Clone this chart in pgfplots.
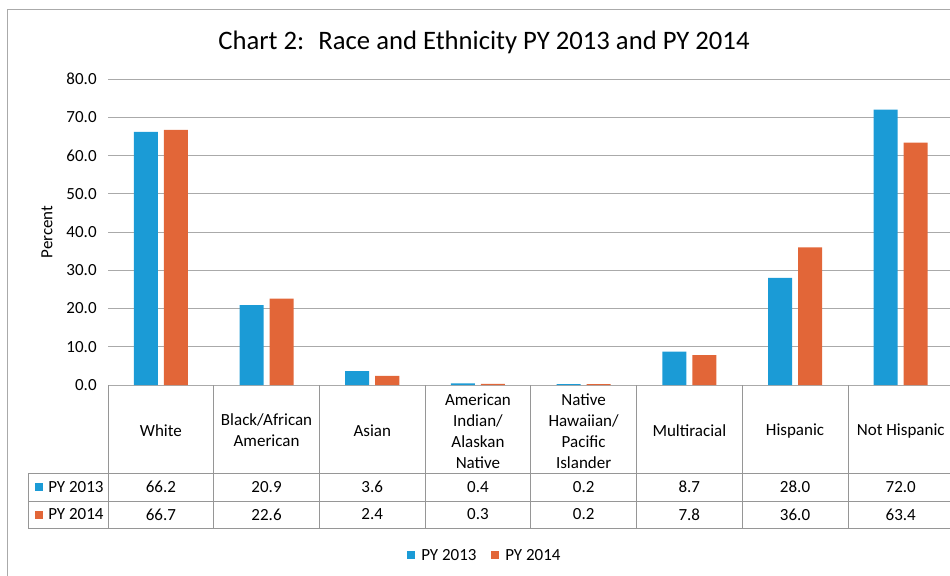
\documentclass[border=0pt]{standalone}
\usepackage{fontspec}
\setmainfont{Carlito}
\usepackage{pgfplots}
\pgfplotsset{compat=1.18}
\definecolor{cblue}{RGB}{27,155,214}
\definecolor{corange}{RGB}{226,102,56}
\definecolor{lgrid}{RGB}{170,170,170}
\definecolor{ltab}{RGB}{150,150,150}
\begin{document}
\begin{tikzpicture}
\path[use as bounding box] (0pt,0pt) rectangle (712.5pt,-431.25pt);
\begin{axis}[
  at={(81pt,-288.75pt)}, anchor=south west,
  scale only axis, width=634.2pt, height=229.5pt,
  xmin=-0.5, xmax=7.5, ymin=0, ymax=80,
  axis line style={draw=none},
  xtick=\empty,
  ytick={0,10,...,80},
  ymajorgrids, grid style={lgrid, line width=0.7pt},
  major tick style={draw=none},
  yticklabel style={font=\fontsize{12.75}{15}\selectfont, xshift=-5pt,
    /pgf/number format/.cd, fixed, fixed zerofill, precision=1, assume math mode=true},
  ybar, bar width=18pt,
  clip=false,
]
\addplot[fill=cblue, draw=none, bar shift=-11.25pt] coordinates {
  (0,66.2) (1,20.9) (2,3.6) (3,0.4) (4,0.2) (5,8.7) (6,28.0) (7,72.0)};
\addplot[fill=corange, draw=none, bar shift=11.25pt] coordinates {
  (0,66.7) (1,22.6) (2,2.4) (3,0.3) (4,0.2) (5,7.8) (6,36.0) (7,63.4)};
\end{axis}
\begin{scope}[x=0.75pt,y=-0.75pt]
  % frame
  \draw[lgrid, line width=0.6pt] (7,580) -- (7,9) -- (960,9);
  % title
  \node[font=\fontsize{20}{24}\selectfont] at (484,42) {Chart 2:~ Race and Ethnicity PY 2013 and PY 2014};
  % y label
  \node[rotate=90, font=\fontsize{12.75}{15}\selectfont] at (47,232) {Percent};
  % table lines
  \begin{scope}[ltab, line width=0.6pt]
    \draw (108,385) -- (108,528);
    \draw (213.7,385) -- (213.7,528);
    \draw (319.4,385) -- (319.4,528);
    \draw (425.1,385) -- (425.1,528);
    \draw (530.8,385) -- (530.8,528);
    \draw (636.5,385) -- (636.5,528);
    \draw (742.2,385) -- (742.2,528);
    \draw (847.9,385) -- (847.9,528);
    \draw (28,473) -- (960,473);
    \draw (28,501) -- (960,501);
    \draw (28,528) -- (960,528);
    \draw (28,473) -- (28,528);
  \end{scope}
  % header
  \begin{scope}[every node/.style={font=\fontsize{12.75}{15.75}\selectfont, align=center}]
    \node at (160.85,431) {White};
    \node at (266.55,430) {Black/African\\American};
    \node at (372.25,431) {Asian};
    \node at (477.95,431.5) {American\\Indian/\\Alaskan\\Native};
    \node at (583.65,431.5) {Native\\Hawaiian/\\Pacific\\Islander};
    \node at (689.35,431) {Multiracial};
    \node at (795.05,431) {Hispanic};
    \node at (900.75,431) {Not Hispanic};
    % row 1
    \node at (160.85,487) {66.2};
    \node at (266.55,487) {20.9};
    \node at (372.25,487) {3.6};
    \node at (477.95,487) {0.4};
    \node at (583.65,487) {0.2};
    \node at (689.35,487) {8.7};
    \node at (795.05,487) {28.0};
    \node at (900.75,487) {72.0};
    % row 2
    \node at (160.85,514.5) {66.7};
    \node at (266.55,514.5) {22.6};
    \node at (372.25,514.5) {2.4};
    \node at (477.95,514.5) {0.3};
    \node at (583.65,514.5) {0.2};
    \node at (689.35,514.5) {7.8};
    \node at (795.05,514.5) {36.0};
    \node at (900.75,514.5) {63.4};
    % row labels
    \fill[cblue] (35,483) rectangle (43,491);
    \node[anchor=west, inner sep=0pt] at (48,487) {PY 2013};
    \fill[corange] (35,510.5) rectangle (43,518.5);
    \node[anchor=west, inner sep=0pt] at (48,514.5) {PY 2014};
    % bottom legend
    \fill[cblue] (407,551) rectangle (415,559);
    \node[anchor=west, inner sep=0pt] at (421,555) {PY 2013};
    \fill[corange] (491,551) rectangle (499,559);
    \node[anchor=west, inner sep=0pt] at (505,555) {PY 2014};
  \end{scope}
\end{scope}
\end{tikzpicture}
\end{document}
